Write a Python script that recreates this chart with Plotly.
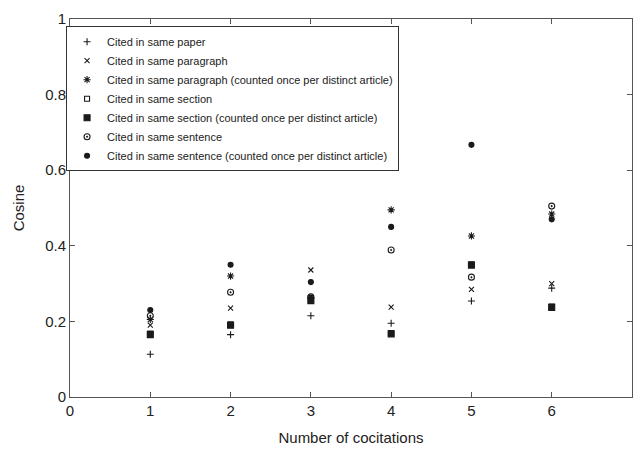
import plotly.graph_objects as go

x_vals = [1, 2, 3, 4, 5, 6]
series_names = [
    "Cited in same paper",
    "Cited in same paragraph",
    "Cited in same paragraph (counted once per distinct article)",
    "Cited in same section",
    "Cited in same section (counted once per distinct article)",
    "Cited in same sentence",
    "Cited in same sentence (counted once per distinct article)",
]
paper = [0.113, 0.165, 0.215, 0.195, 0.254, 0.288]
paragraph = [0.190, 0.235, 0.336, 0.238, 0.285, 0.300]
paragraph_once = [0.205, 0.320, 0.262, 0.495, 0.426, 0.484]
section = [0.168, 0.192, 0.262, 0.169, 0.351, 0.239]
section_once = [0.165, 0.190, 0.255, 0.167, 0.349, 0.237]
sentence = [0.215, 0.277, 0.265, 0.389, 0.317, 0.505]
sentence_once = [0.230, 0.350, 0.304, 0.450, 0.667, 0.470]

x_ticks = [0, 1, 2, 3, 4, 5, 6, 7]
y_ticks = [0, 0.2, 0.4, 0.6, 0.8, 1]

data = [paper, paragraph, paragraph_once, section, section_once, sentence, sentence_once]
symbols = ["cross-thin-open", "x-thin-open", "asterisk-open", "square-open",
           "square", "circle-open-dot", "circle"]
sizes = [5, 5, 6, 5, 6, 6, 5]

fig = go.Figure()
for name, ys, sym, sz in zip(series_names, data, symbols, sizes):
    fig.add_trace(go.Scatter(
        x=x_vals, y=ys, mode="markers", name=name,
        marker=dict(symbol=sym, size=sz, color="#1a1a1a",
                    line=dict(color="#1a1a1a", width=1.1)),
    ))

axis_common = dict(
    showline=True, mirror="allticks", linecolor="#555555", linewidth=1,
    ticks="inside", ticklen=5, tickcolor="#555555", showgrid=False,
    zeroline=False, tickfont=dict(size=15, color="#222222"),
)
fig.update_layout(
    width=636, height=449,
    margin=dict(l=70, r=4, t=19, b=52),
    plot_bgcolor="white", paper_bgcolor="white",
    font=dict(family="Liberation Sans, Arial, sans-serif", color="#222222"),
    xaxis=dict(range=[0, 7], tickvals=x_ticks,
               title=dict(text="Number of cocitations", font=dict(size=15), standoff=14),
               **axis_common),
    yaxis=dict(range=[0, 1], tickvals=y_ticks, ticktext=["0", "0.2", "0.4", "0.6", "0.8", "1"],
               title=dict(text="Cosine", font=dict(size=15), standoff=16),
               **axis_common),
    legend=dict(x=-0.007, y=0.981, xanchor="left", yanchor="top",
                bordercolor="#333333", borderwidth=1, bgcolor="white",
                font=dict(size=11), tracegroupgap=0, itemwidth=30),
    showlegend=True,
)
fig.write_html("out.html")
